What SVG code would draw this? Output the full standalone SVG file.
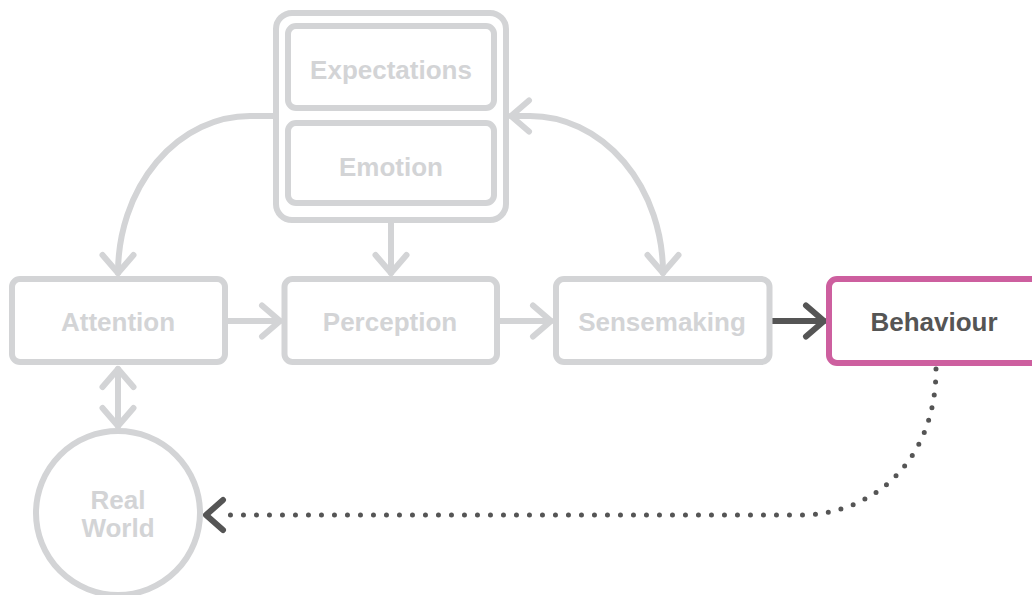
<svg xmlns="http://www.w3.org/2000/svg" width="1032" height="595" viewBox="0 0 1032 595">
  <style>
    .box { fill: #ffffff; stroke: #d3d4d6; stroke-width: 6; }
    .hl { fill: #ffffff; stroke: #cd5f9f; stroke-width: 6; }
    .lbl { font-family: "Liberation Sans", Arial, Helvetica, sans-serif; font-weight: bold; font-size: 26px; fill: #d3d4d6; text-anchor: middle; }
    .lbl-dark { fill: #555555; }
    .conn { fill: none; stroke: #d3d4d6; stroke-width: 6; stroke-linecap: round; }
    .conn-dark { fill: none; stroke: #555555; stroke-width: 6; stroke-linecap: round; stroke-linejoin: round; }
    .dots { fill: none; stroke: #555555; stroke-width: 5; stroke-linecap: round; stroke-dasharray: 0 13; }
  </style>
  <defs>
    <marker id="chev" markerUnits="userSpaceOnUse" markerWidth="40" markerHeight="40" refX="0" refY="0" viewBox="-20 -20 40 40" orient="auto-start-reverse" overflow="visible">
      <path d="M -18 -15.5 L 0 0 L -18 15.5" fill="none" stroke="#d3d4d6" stroke-width="6" stroke-linecap="round" stroke-linejoin="round"/>
    </marker>
    <marker id="chev-dark" markerUnits="userSpaceOnUse" markerWidth="40" markerHeight="40" refX="0" refY="0" viewBox="-20 -20 40 40" orient="auto-start-reverse" overflow="visible">
      <path d="M -18 -15.5 L 0 0 L -18 15.5" fill="none" stroke="#555555" stroke-width="6" stroke-linecap="round" stroke-linejoin="round"/>
    </marker>
  </defs>
  <rect width="1032" height="595" fill="#ffffff"/>

  <g id="connectors">
    <path class="conn" d="M 273 116 H 250 A 132 157 0 0 0 118 273" marker-end="url(#chev)"/>
    <path class="conn" d="M 511 116 H 530 A 133 157 0 0 1 663 273" marker-start="url(#chev)" marker-end="url(#chev)"/>
    <path class="conn" d="M 391 223 V 273" marker-end="url(#chev)"/>
    <path class="conn" d="M 228 321 H 280" marker-end="url(#chev)"/>
    <path class="conn" d="M 500 321 H 551" marker-end="url(#chev)"/>
    <path class="conn-dark" d="M 772 321 H 824" marker-end="url(#chev-dark)"/>
    <path class="conn" d="M 118 369 V 426" marker-start="url(#chev)" marker-end="url(#chev)"/>
    <path class="dots" d="M 936 369 C 936 462 872 515 800 515 L 222 515"/>
    <path class="conn-dark" d="M 223 500 L 206 515 L 223 530"/>
  </g>

  <g id="container">
    <rect class="box" x="276" y="13" width="230" height="207" rx="16"/>
  </g>
  <g id="expectations">
    <rect class="box" x="288" y="26" width="206" height="82" rx="8"/>
    <text class="lbl" x="391" y="79">Expectations</text>
  </g>
  <g id="emotion">
    <rect class="box" x="288" y="123" width="206" height="80" rx="8"/>
    <text class="lbl" x="391" y="176">Emotion</text>
  </g>
  <g id="attention">
    <rect class="box" x="12" y="279" width="213" height="83" rx="8"/>
    <text class="lbl" x="118" y="331">Attention</text>
  </g>
  <g id="perception">
    <rect class="box" x="284.5" y="279" width="212.5" height="83" rx="8"/>
    <text class="lbl" x="390" y="331">Perception</text>
  </g>
  <g id="sensemaking">
    <rect class="box" x="556" y="279" width="213.5" height="83" rx="8"/>
    <text class="lbl" x="662" y="331">Sensemaking</text>
  </g>
  <g id="behaviour">
    <rect class="hl" x="829" y="279" width="213" height="84" rx="8"/>
    <text class="lbl lbl-dark" x="934" y="331">Behaviour</text>
  </g>
  <g id="realworld">
    <circle class="box" cx="118" cy="513" r="82"/>
    <text class="lbl" x="118" y="509">Real</text>
    <text class="lbl" x="118" y="537">World</text>
  </g>
</svg>
